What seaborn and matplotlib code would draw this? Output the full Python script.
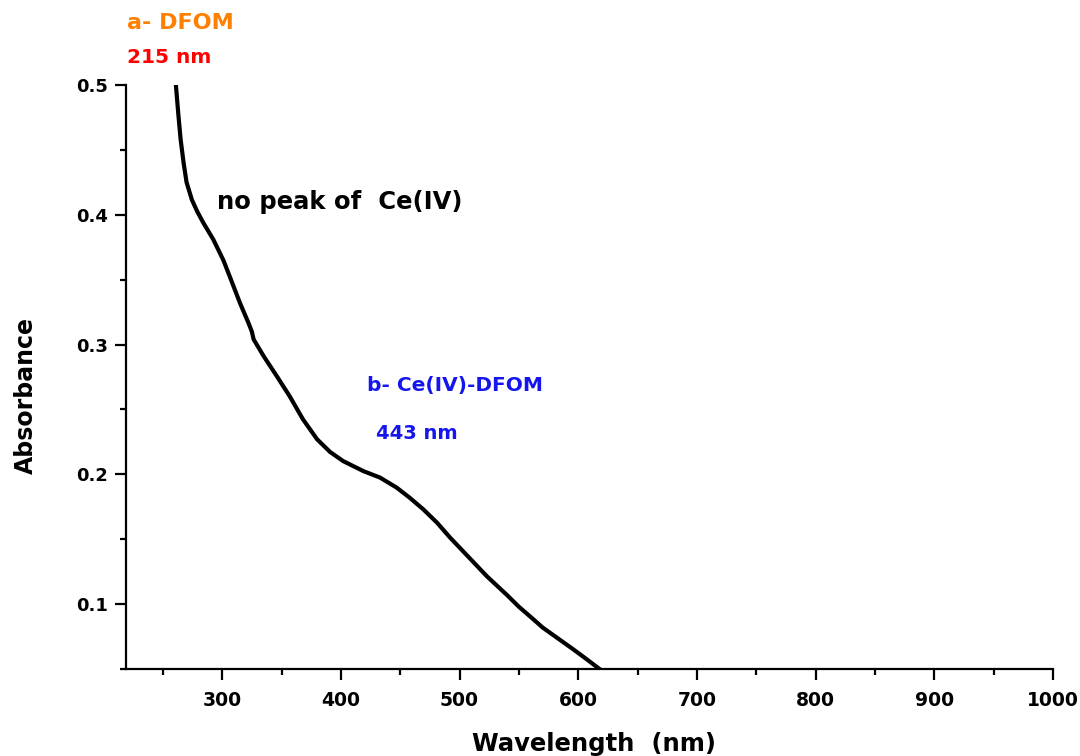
import matplotlib
matplotlib.use("Agg")
import matplotlib.pyplot as plt
from matplotlib.ticker import MultipleLocator
import seaborn as sns
import pandas as pd

# UV-Vis absorption spectrum
wavelength = [260.5, 261, 263, 265, 267.5, 270, 274.5, 279, 284, 292.5, 301, 307, 315,
              322, 325, 326.5, 335, 346, 357, 368, 380, 391, 402, 419, 433, 447, 458,
              469.5, 481, 492, 500, 510, 523, 540, 550, 562, 570, 580, 595.5, 605, 618,
              630]
absorbance = [0.507, 0.500, 0.478, 0.458, 0.440, 0.425, 0.4115, 0.4025, 0.394, 0.381,
              0.365, 0.351, 0.332, 0.317, 0.310, 0.304, 0.291, 0.2757, 0.260, 0.2425,
              0.227, 0.2172, 0.2102, 0.2025, 0.1975, 0.1898, 0.182, 0.173, 0.1628,
              0.1513, 0.1436, 0.134, 0.1215, 0.107, 0.098, 0.0885, 0.082, 0.0755,
              0.0654, 0.059, 0.050, 0.043]

x_ticks = [300, 400, 500, 600, 700, 800, 900, 1000]
y_ticks = [0.1, 0.2, 0.3, 0.4, 0.5]

spectrum = pd.DataFrame({"Wavelength": wavelength, "Absorbance": absorbance})

sns.set_theme(style="ticks")
plt.rcParams["font.family"] = ["DejaVu Sans"]
plt.rcParams["font.weight"] = "bold"

fig = plt.figure(figsize=(10.8, 7.56), dpi=100)
ax = fig.add_axes([0.1167, 0.115, 0.975 - 0.1167, 0.8876 - 0.115])

sns.lineplot(data=spectrum, x="Wavelength", y="Absorbance", ax=ax,
             color="black", linewidth=3.0, sort=False,
             solid_joinstyle="round", solid_capstyle="round")

ax.set_xlim(219, 1000)
ax.set_ylim(0.05, 0.5)
ax.set_xticks(x_ticks)
ax.set_yticks(y_ticks)
ax.set_xticklabels([str(v) for v in x_ticks])
ax.set_yticklabels([f"{v:.1f}" for v in y_ticks])
ax.xaxis.set_minor_locator(MultipleLocator(50))
ax.yaxis.set_minor_locator(MultipleLocator(0.05))

for side in ("top", "right"):
    ax.spines[side].set_visible(False)
for side in ("left", "bottom"):
    ax.spines[side].set_linewidth(1.6)
    ax.spines[side].set_color("black")

ax.tick_params(axis="both", which="major", direction="out", length=8, width=1.6,
               colors="black", labelsize=13)
ax.tick_params(axis="x", which="major", labelsize=13.5, pad=8)
ax.tick_params(axis="y", which="major", pad=5)
ax.tick_params(axis="both", which="minor", direction="out", length=4, width=1.6,
               colors="black")
for lab in ax.get_xticklabels() + ax.get_yticklabels():
    lab.set_fontweight("bold")

ax.set_xlabel("Wavelength  (nm)", fontsize=17.5, fontweight="bold", color="black")
ax.set_ylabel("Absorbance", fontsize=17, fontweight="bold", color="black")
ax.xaxis.set_label_coords(0.505, -0.108)
ax.yaxis.set_label_coords(-0.095, 0.469)

# Band annotations
ax.text(220, 0.548, "a- DFOM", color="#FF8000", fontsize=16, fontweight="bold",
        va="center", ha="left", clip_on=False)
ax.text(220, 0.5215, "215 nm", color="#FF0000", fontsize=14.5, fontweight="bold",
        va="center", ha="left", clip_on=False)
ax.text(296, 0.410, "no peak of  Ce(IV)", color="black", fontsize=17.5,
        fontweight="bold", va="center", ha="left")
ax.text(422, 0.2685, "b- Ce(IV)-DFOM", color="#1515EE", fontsize=14.5,
        fontweight="bold", va="center", ha="left")
ax.text(429.5, 0.2315, "443 nm", color="#1515EE", fontsize=14,
        fontweight="bold", va="center", ha="left")

fig.savefig("out.png", dpi=100, facecolor="white")
